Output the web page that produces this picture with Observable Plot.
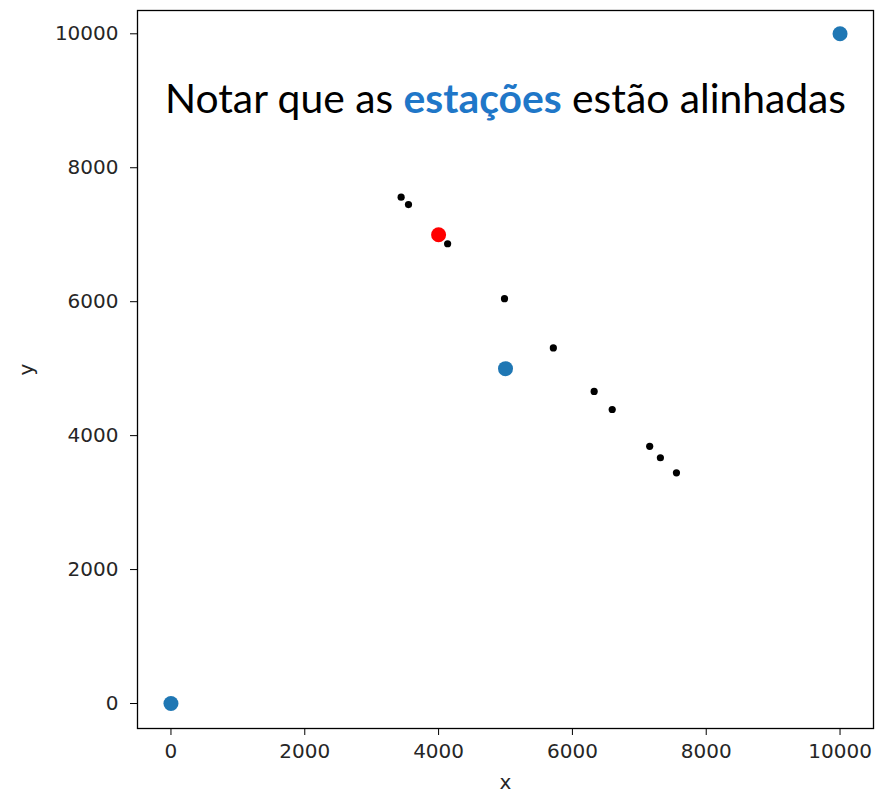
<!DOCTYPE html>
<html><head><meta charset="utf-8">
<script src="https://cdn.jsdelivr.net/npm/d3@7"></script>
<script src="https://cdn.jsdelivr.net/npm/@observablehq/plot@0.6"></script>
<style>html,body{margin:0;padding:0;background:#fff}</style>
</head><body><div id="chart"></div>
<script>
// Stations (blue)
const stationX = [0, 5000, 10000];
const stationY = [0, 5000, 10000];
// Source (red)
const sourceX = [4000];
const sourceY = [7000];
// Candidate points (black)
const pointX = [3440, 3550, 4135, 4985, 5715, 6325, 6595, 7155, 7315, 7555];
const pointY = [7560, 7450, 6865, 6045, 5310, 4660, 4390, 3840, 3670, 3445];
// Ticks
const xTicks = [0, 2000, 4000, 6000, 8000, 10000];
const yTicks = [0, 2000, 4000, 6000, 8000, 10000];
// Annotation pieces
const notePieces = ["Notar que as ", "estações", " estão alinhadas"];
const noteColors = ["#000000", "#1f77c8", "#000000"];
const noteWeights = ["normal", "bold", "normal"];

const stations = stationX.map((x, i) => ({x, y: stationY[i]}));
const source = sourceX.map((x, i) => ({x, y: sourceY[i]}));
const points = pointX.map((x, i) => ({x, y: pointY[i]}));

const chart = Plot.plot({
  width: 882,
  height: 794,
  marginLeft: 137,
  marginRight: 9,
  marginTop: 10,
  marginBottom: 66,
  style: {fontFamily: "DejaVu Sans", fontSize: "20px", color: "#262626", background: "#fff", overflow: "visible"},
  x: {domain: [-500, 10500]},
  y: {domain: [-373, 10348]},
  marks: [
    Plot.axisX({ticks: xTicks, tickFormat: d => String(d), tickSize: 7, tickPadding: 8, fontSize: 20,
      label: "x", labelAnchor: "center", labelArrow: "none", labelOffset: 60, stroke: "#000"}),
    Plot.axisY({ticks: yTicks, tickFormat: d => String(d), tickSize: 7, tickPadding: 12, fontSize: 20,
      label: "y", labelAnchor: "center", labelArrow: "none", labelOffset: 119, stroke: "#000"}),
    Plot.frame({stroke: "#000", strokeWidth: 1.3}),
    Plot.dot(stations, {x: "x", y: "y", r: 7.5, fill: "#1f77b4", stroke: "none"}),
    Plot.dot(source, {x: "x", y: "y", r: 7.5, fill: "#ff0000", stroke: "none"}),
    Plot.dot(points, {x: "x", y: "y", r: 3.6, fill: "#000", stroke: "none"}),
    Plot.text([notePieces.join("")], {text: d => d, frameAnchor: "top", dy: 102, lineAnchor: "bottom",
      textAnchor: "middle", fontSize: 40.8, fontFamily: "Lato", fill: "#000", className: "note"})
  ]
});
document.getElementById("chart").appendChild(chart);

// Turn the annotation into coloured pieces
const t = d3.select(chart).select(".note text");
t.text(null);
notePieces.forEach((p, i) => {
  t.append("tspan").attr("fill", noteColors[i]).attr("font-weight", noteWeights[i]).text(p);
});
</script>
</body></html>
